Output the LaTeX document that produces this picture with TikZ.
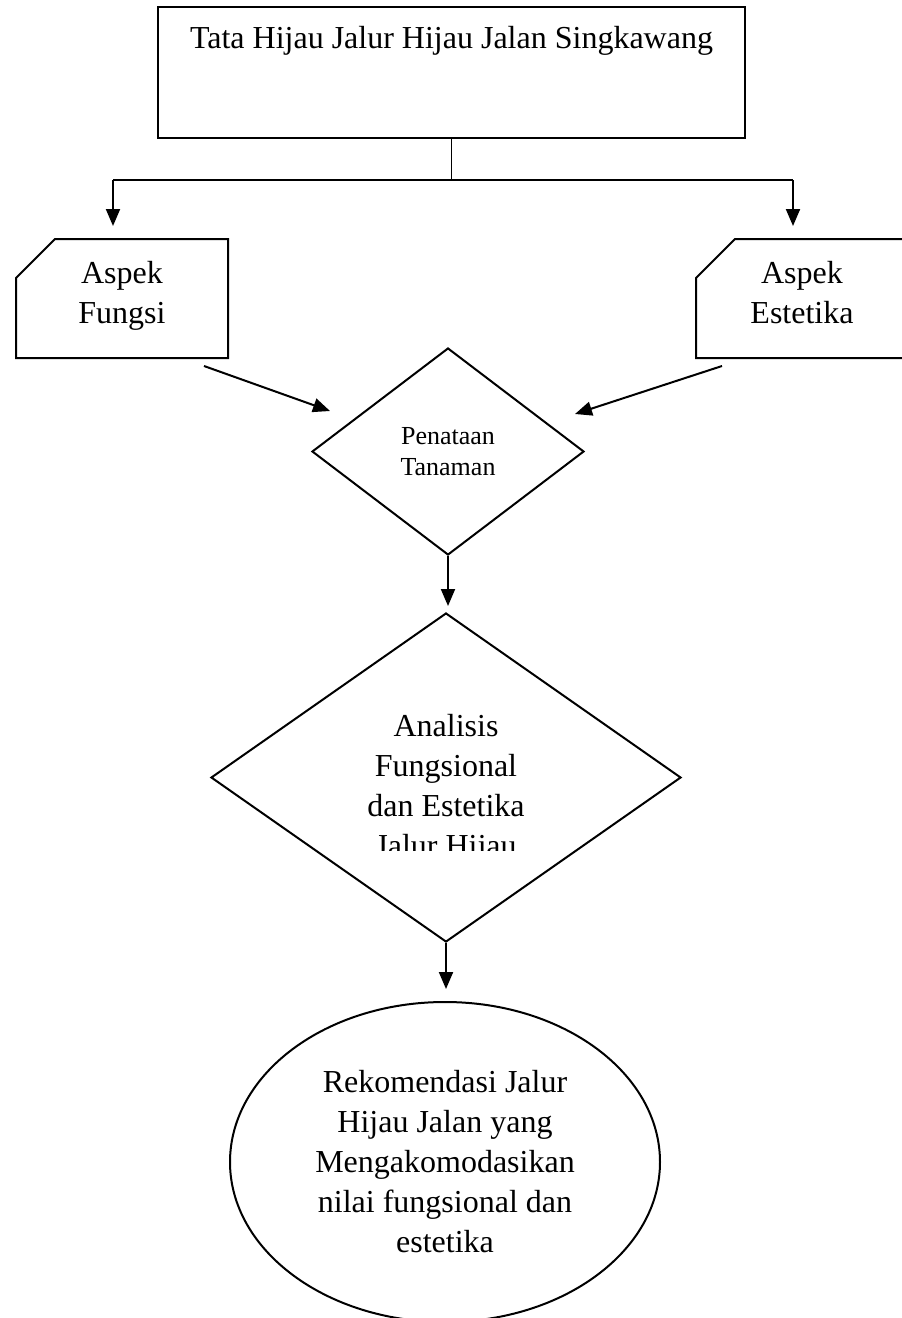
\documentclass[tikz,border=0pt]{standalone}
\usepackage{fontspec}
\setmainfont{Liberation Serif}
\usetikzlibrary{positioning,arrows.meta,shapes.geometric,shapes.misc}

\begin{document}
\begin{tikzpicture}[
  x=1pt, y=-1pt,
  font=\fontsize{32}{40}\selectfont,
  box/.style={draw, line width=2pt, inner sep=0pt, align=center},
  aspek/.style={box, chamfered rectangle, chamfered rectangle corners=north west,
    chamfered rectangle xsep=20pt, chamfered rectangle ysep=19pt,
    minimum width=212pt, minimum height=119pt},
  decision/.style={box, diamond},
  arr/.style={line width=2pt, -{Triangle[length=17pt,width=14pt]}}
]

\clip (0,0) rectangle (902,1318);

% judul
\node[box, minimum width=587pt, minimum height=131pt, text depth=71pt] (tata) at (451.5,72.5)
  {Tata Hijau Jalur Hijau Jalan Singkawang};

% aspek
\node[aspek] (fungsi) at (122,298.5) {Aspek\\Fungsi\strut};
\node[aspek] (estetika) at (802,298.5) {Aspek\\Estetika\strut};

% penataan dan analisis
\node[decision, minimum width=272pt, minimum height=207pt,
  font=\fontsize{26}{31}\selectfont] (penataan) at (448,451.5) {Penataan\\Tanaman};
\node[decision, minimum width=470pt, minimum height=329pt] (analisis) at (446,777.5) {};
\begin{scope}
  \clip (300,690) rectangle (600,850);
  \node[align=center] (analisistext) at (446,789)
    {Analisis\\Fungsional\\dan Estetika\\Jalur Hijau};
\end{scope}

% rekomendasi
\node[box, ellipse, minimum width=430pt, minimum height=320pt] (rekom) at (445,1162)
  {Rekomendasi Jalur\\Hijau Jalan yang\\Mengakomodasikan\\nilai fungsional dan\\estetika};

% garis
\coordinate (jl) at (113,180);
\coordinate (jr) at (793,180);
\draw[line width=1pt] (tata.south) -- (tata.south |- jl);
\draw[line width=1.5pt] (jl) -- (jr);
\foreach \j/\k in {jl/fungsi,jr/estetika}
  \draw[arr, shorten >=12pt] (\j) -- (\j |- \k.north);

\coordinate (fungsiout) at (204,366);
\coordinate (fungsiin) at (330,411);
\coordinate (estetikaout) at (722,366);
\coordinate (estetikain) at (575,414);
\draw[arr] (fungsiout) -- (fungsiin);
\draw[arr] (estetikaout) -- (estetikain);

\draw[arr, shorten >=6pt] (penataan.south) -- (penataan.south |- analisis.north);
\draw[arr, shorten >=12pt] (analisis.south) -- (analisis.south |- rekom.north);

\end{tikzpicture}
\end{document}
